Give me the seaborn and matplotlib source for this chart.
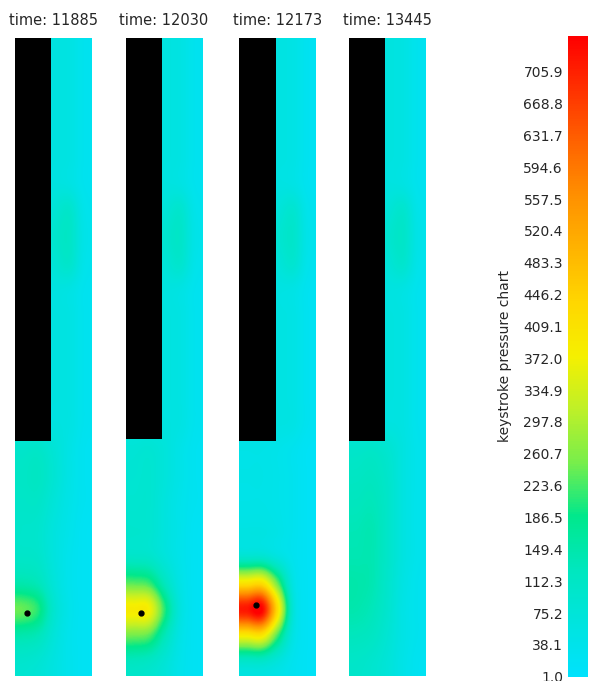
import matplotlib
matplotlib.use("Agg")
import numpy as np
from matplotlib import pyplot as plt
from matplotlib.patches import Rectangle
import seaborn as sns

# ---------- data --------------------------------------------------------
times = [11885, 12030, 12173, 13445]

# black key overlay (in sensor-grid units: 5 columns x 24 rows)
key_widths = [2.34, 2.34, 2.38, 2.34]
key_lengths = [15.14, 15.09, 15.14, 15.16]

# touch point marker (None = no touch)
touch_x = [0.78, 0.99, 1.08, None]
touch_y = [21.6, 21.6, 21.3, None]

tick_values = [1.0, 38.1, 75.2, 112.3, 149.4, 186.5, 223.6, 260.7, 297.8,
               334.9, 372.0, 409.1, 446.2, 483.3, 520.4, 557.5, 594.6,
               631.7, 668.8, 705.9]
v_min, v_max = 1.0, 747.5

# evenly spaced colour stops from v_min to v_max
cmap_colors = ["#00e2fc", "#00e4de", "#00e7be", "#00e88c", "#78ee4b",
               "#bef028", "#f5f000", "#ffd700", "#ffb400", "#ff9100",
               "#ff6400", "#ff3200", "#ff0000"]

# sensor readings, rows top -> bottom, 5 columns left -> right
pressure_11885 = [
    [60, 60, 60, 55, 30], [60, 60, 60, 55, 30], [60, 60, 60, 55, 30],
    [60, 60, 60, 55, 30], [60, 60, 60, 55, 30], [60, 60, 60, 55, 30],
    [60, 60, 80, 100, 40], [65, 65, 95, 110, 45], [60, 60, 80, 100, 40],
    [60, 60, 60, 55, 30], [60, 60, 60, 55, 30], [60, 60, 60, 55, 30],
    [60, 60, 60, 55, 30], [60, 60, 60, 55, 30], [60, 60, 60, 55, 30],
    [100, 105, 80, 50, 25], [110, 115, 85, 50, 25], [105, 105, 75, 45, 25],
    [100, 95, 65, 40, 20], [105, 100, 65, 35, 20], [145, 130, 75, 35, 20],
    [240, 205, 95, 40, 20], [145, 130, 75, 35, 20], [95, 85, 60, 35, 20],
]
pressure_12030 = [
    [60, 60, 60, 55, 30], [60, 60, 60, 55, 30], [60, 60, 60, 55, 30],
    [60, 60, 60, 55, 30], [60, 60, 60, 55, 30], [60, 60, 60, 55, 30],
    [60, 60, 75, 95, 40], [65, 65, 90, 105, 45], [60, 60, 75, 95, 40],
    [60, 60, 60, 55, 30], [60, 60, 60, 55, 30], [60, 60, 60, 55, 30],
    [60, 60, 60, 55, 30], [60, 60, 60, 55, 30], [60, 60, 60, 55, 30],
    [80, 85, 70, 45, 25], [85, 90, 70, 45, 25], [90, 90, 65, 40, 25],
    [95, 90, 65, 40, 20], [105, 100, 70, 40, 20], [230, 215, 125, 50, 20],
    [385, 375, 210, 65, 20], [245, 230, 135, 50, 20], [120, 110, 80, 40, 20],
]
pressure_12173 = [
    [55, 55, 55, 50, 25], [55, 55, 55, 50, 25], [55, 55, 55, 50, 25],
    [55, 55, 55, 50, 25], [55, 55, 55, 50, 25], [55, 55, 55, 50, 25],
    [55, 55, 70, 90, 35], [60, 60, 85, 100, 40], [55, 55, 70, 90, 35],
    [55, 55, 55, 50, 25], [55, 55, 55, 50, 25], [55, 55, 55, 50, 25],
    [55, 55, 55, 50, 25], [55, 55, 55, 50, 25], [55, 55, 55, 50, 25],
    [45, 45, 40, 30, 15], [45, 45, 40, 30, 15], [45, 45, 40, 30, 15],
    [55, 55, 45, 30, 15], [90, 90, 60, 30, 15], [400, 410, 240, 55, 15],
    [720, 745, 420, 80, 15], [380, 390, 220, 55, 15], [95, 95, 65, 30, 15],
]
pressure_13445 = [
    [60, 60, 60, 55, 30], [60, 60, 60, 55, 30], [60, 60, 60, 55, 30],
    [60, 60, 60, 55, 30], [60, 60, 60, 55, 30], [60, 60, 60, 55, 30],
    [60, 60, 75, 95, 40], [65, 65, 90, 105, 45], [60, 60, 75, 95, 40],
    [60, 60, 60, 55, 30], [60, 60, 60, 55, 30], [60, 60, 60, 55, 30],
    [60, 60, 60, 55, 30], [60, 60, 60, 55, 30], [60, 60, 60, 55, 30],
    [100, 105, 90, 60, 35], [115, 120, 100, 60, 35], [125, 130, 105, 60, 35],
    [135, 140, 105, 60, 35], [140, 140, 105, 60, 35], [150, 140, 100, 55, 30],
    [145, 130, 95, 50, 30], [125, 115, 85, 50, 30], [105, 95, 75, 45, 25],
]
frames = [pressure_11885, pressure_12030, pressure_12173, pressure_13445]

# ---------- figure -------------------------------------------------------
sns.set_style("white")
plt.rcParams["font.family"] = ["DejaVu Sans"]

cmap = sns.blend_palette(cmap_colors, as_cmap=True)

W, H = 590, 681
fig = plt.figure(figsize=(W / 100, H / 100), dpi=100)

panel_left = [15, 125.5, 239, 349]
panel_w, panel_top, panel_bottom = 77, 37.5, 676.5

im = None
for i, grid in enumerate(frames):
    ax = fig.add_axes([panel_left[i] / W, (H - panel_bottom) / H,
                       panel_w / W, (panel_bottom - panel_top) / H])
    vals = np.array(grid, dtype=float)
    n_rows, n_cols = vals.shape
    im = ax.imshow(vals, cmap=cmap, vmin=v_min, vmax=v_max,
                   interpolation="catrom", aspect="auto",
                   extent=(0, n_cols, n_rows, 0))
    ax.add_patch(Rectangle((0, 0), key_widths[i], key_lengths[i],
                           facecolor="black", edgecolor="none"))
    if touch_x[i] is not None:
        ax.plot(touch_x[i], touch_y[i], "o", color="black", markersize=3.5)
    ax.set_xlim(0, n_cols)
    ax.set_ylim(n_rows, 0)
    ax.axis("off")
    ax.set_title(f"time: {times[i]}", fontsize=10.5, pad=9)

cax = fig.add_axes([568 / W, (H - 676.7) / H, 20 / W, 640.7 / H])
cbar = fig.colorbar(im, cax=cax, ticks=tick_values)
cbar.outline.set_visible(False)
cax.yaxis.set_ticks_position("left")
cax.yaxis.set_label_position("left")
cax.set_yticklabels([f"{t:.1f}" for t in tick_values])
cax.tick_params(length=0, pad=3.6, labelsize=10)
cax.set_ylabel("keystroke pressure chart", fontsize=10, labelpad=8)

fig.savefig("out.png", dpi=100)
